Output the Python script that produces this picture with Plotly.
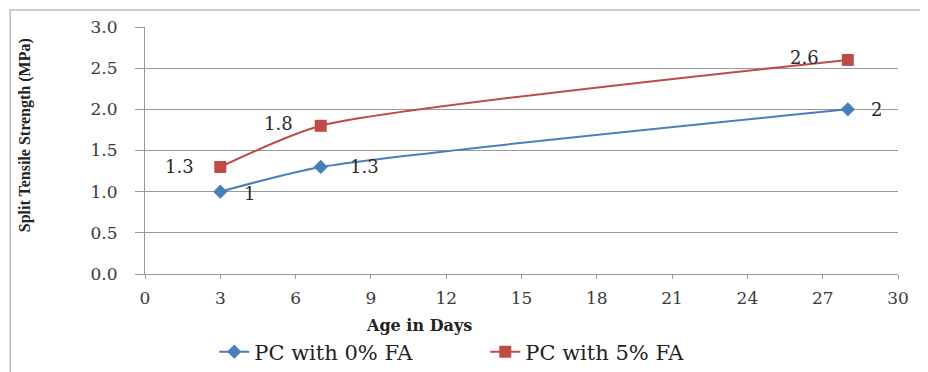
import plotly.graph_objects as go

# Split tensile strength vs age
days = [3, 7, 28]
fa0 = [1.0, 1.3, 2.0]
fa5 = [1.3, 1.8, 2.6]
fa0_labels = ['1', '1.3', '2']
fa5_labels = ['1.3', '1.8', '2.6']
x_ticks = list(range(0, 31, 3))
y_ticks = [0.0, 0.5, 1.0, 1.5, 2.0, 2.5, 3.0]

wide_serif = '"DejaVu Serif", serif'
narrow_serif = '"Liberation Serif", "Times New Roman", serif'
blue = '#4a7ebb'
red = '#be4b48'

fig = go.Figure()

fig.add_trace(go.Scatter(
    x=days, y=fa0, name='PC with 0% FA',
    mode='lines+markers',
    line=dict(color=blue, width=2, shape='spline', smoothing=0.6),
    marker=dict(symbol='diamond', size=11, color=blue)))

fig.add_trace(go.Scatter(
    x=days, y=fa5, name='PC with 5% FA',
    mode='lines+markers',
    line=dict(color=red, width=2, shape='spline', smoothing=0.6),
    marker=dict(symbol='square', size=12, color=red)))

# data labels, offsets like the original Excel chart
annos = []
offs0 = [(29, -2), (44, 0), (29, 0)]
offs5 = [(-41, 0), (-42, 2), (-43, 2)]
for xs, ys, labs, offs in [(days, fa0, fa0_labels, offs0), (days, fa5, fa5_labels, offs5)]:
    for xv, yv, lab, (dx, dy) in zip(xs, ys, labs, offs):
        annos.append(dict(x=xv, y=yv, text=lab, showarrow=False, xshift=dx, yshift=dy,
                          xanchor='center', yanchor='middle',
                          font=dict(family=wide_serif, size=18, color='#2a2a2a')))

annos.append(dict(text='<b>Age in Days</b>', xref='paper', yref='paper',
                  x=0.364, y=-0.207, xanchor='center', yanchor='middle', showarrow=False,
                  font=dict(family=wide_serif, size=16, color='#222222')))
annos.append(dict(text='<b>Split Tensile Strength (MPa)</b>', xref='paper', yref='paper',
                  x=-0.159, y=0.563, xanchor='center', yanchor='middle', showarrow=False,
                  textangle=-90, font=dict(family=narrow_serif, size=16, color='#222222')))

# page body adds 8px offset, margins compensate
fig.update_layout(
    width=928, height=372,
    paper_bgcolor='white', plot_bgcolor='white',
    margin=dict(l=137, r=38, t=19, b=106, autoexpand=False),
    font=dict(family=wide_serif, size=15, color='#333333'),
    showlegend=True,
    legend=dict(orientation='h', x=0.092, xanchor='left', y=-0.316, yanchor='middle',
                entrywidth=226, entrywidthmode='pixels',
                font=dict(family=wide_serif, size=21, color='#222222')),
    shapes=[dict(type='rect', xref='paper', yref='paper',
                 x0=-0.179, x1=1.1, y0=-0.45, y1=1.069,
                 line=dict(color='#bbbbbb', width=1.5))],
    annotations=annos,
)

fig.update_xaxes(
    range=[0, 30], tickvals=x_ticks, showgrid=False,
    showline=True, linecolor='#999999', ticks='outside', ticklen=4, tickcolor='#999999',
    ticklabelstandoff=5,
    tickfont=dict(family=wide_serif, size=17, color='#3a3a3a'))

fig.update_yaxes(
    range=[0, 3.0], tickvals=y_ticks, tickformat='.1f',
    showgrid=True, gridcolor='#999999', gridwidth=1,
    showline=True, linecolor='#999999', ticks='outside', ticklen=9, tickcolor='#999999',
    ticklabelstandoff=14,
    tickfont=dict(family=wide_serif, size=17, color='#3a3a3a'))

fig.write_html("out.html")
